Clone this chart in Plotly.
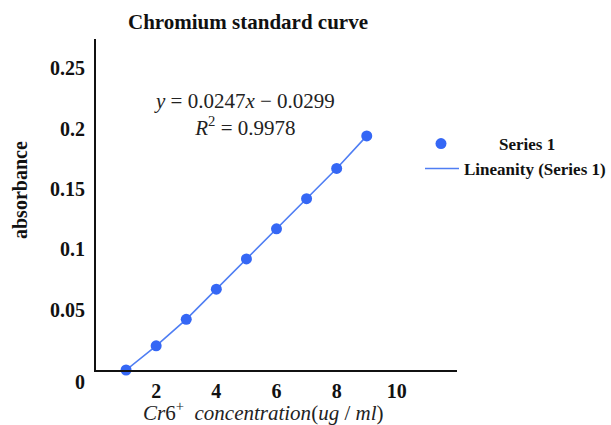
import plotly.graph_objects as go

# Cr6+ standard solutions (ug/ml) and measured absorbance
concentration = [1, 2, 3, 4, 5, 6, 7, 8, 9]
absorbance = [0.0, 0.020, 0.042, 0.067, 0.092, 0.117, 0.142, 0.167, 0.194]

x_ticks = [2, 4, 6, 8, 10]
y_ticks = [0.05, 0.1, 0.15, 0.2, 0.25]
y_tick_text = ["0.05", "0.1", "0.15", "0.2", "0.25"]

fit_label = "<i>y</i> = 0.0247<i>x</i> − 0.0299<br><i>R</i><sup>2</sup> = 0.9978"

SERIF = "Liberation Serif, Times New Roman, serif"
MARKER_BLUE = "#3567f5"
LINE_BLUE = "#4f7ef3"

fig = go.Figure()

fig.add_trace(go.Scatter(
    x=concentration, y=absorbance,
    mode="lines",
    name="<b>Lineanity (Series 1)</b>",
    line=dict(color=LINE_BLUE, width=1.6),
    legend="legend2",
    cliponaxis=False,
))
fig.add_trace(go.Scatter(
    x=concentration, y=absorbance,
    mode="markers",
    name="<b>Series 1</b>",
    marker=dict(color=MARKER_BLUE, size=11),
    legend="legend",
    cliponaxis=False,
))

fig.update_layout(
    width=611, height=425,
    margin=dict(l=96, r=154, t=39, b=55, autoexpand=False),
    paper_bgcolor="white", plot_bgcolor="white",
    font=dict(family=SERIF, color="#111111", size=20),
    showlegend=True,
    legend=dict(
        xref="container", yref="container",
        x=383 / 611, y=1 - 126 / 425, xanchor="left", yanchor="top",
        itemwidth=106,
        font=dict(family=SERIF, size=17, color="#111111"),
        bgcolor="rgba(0,0,0,0)", borderwidth=0,
    ),
    legend2=dict(
        xref="container", yref="container",
        x=420 / 611, y=1 - 151 / 425, xanchor="left", yanchor="top",
        itemwidth=34,
        font=dict(family=SERIF, size=17, color="#111111"),
        bgcolor="rgba(0,0,0,0)", borderwidth=0,
    ),
    xaxis=dict(
        range=[0, 12], tickvals=x_ticks,
        tickfont=dict(family=SERIF, size=20, color="#111111", weight="bold"),
        showgrid=False, zeroline=False,
        showline=True, linecolor="#111111", linewidth=2,
        ticks="", ticklabelstandoff=2,
    ),
    yaxis=dict(
        range=[0, 0.2743], tickvals=y_ticks, ticktext=y_tick_text,
        tickfont=dict(family=SERIF, size=20, color="#111111", weight="bold"),
        showgrid=False, zeroline=False,
        showline=True, linecolor="#111111", linewidth=2,
        ticks="", ticklabelstandoff=5,
    ),
    annotations=[
        dict(text="<b>Chromium standard curve</b>", xref="paper", yref="paper",
             x=(248 - 96) / 361, y=1, yshift=17, showarrow=False,
             xanchor="center", yanchor="middle",
             font=dict(family=SERIF, size=21, color="#111111")),
        dict(text="<b>absorbance</b>", xref="paper", yref="paper",
             x=0, xshift=-76, y=(370 - 190) / 331, textangle=-90,
             showarrow=False, xanchor="center", yanchor="middle",
             font=dict(family=SERIF, size=20, color="#111111")),
        dict(text="<i>Cr</i>6<sup>+</sup>  <i>concentration</i>(<i>ug</i> / <i>ml</i>)",
             xref="paper", yref="paper", x=(263 - 96) / 361, y=0, yshift=-41,
             showarrow=False, xanchor="center", yanchor="middle",
             font=dict(family=SERIF, size=21, color="#222222")),
        dict(text="<b>0</b>", xref="paper", yref="paper", x=0, xshift=-16,
             y=0, yshift=-12, showarrow=False, xanchor="center", yanchor="middle",
             font=dict(family=SERIF, size=20, color="#111111")),
        dict(text=fit_label, xref="paper", yref="paper",
             x=(244 - 96) / 361, y=(370 - 115) / 331, showarrow=False,
             xanchor="center", yanchor="middle", align="center",
             font=dict(family=SERIF, size=21, color="#222222")),
    ],
)

fig.write_html("out.html")
